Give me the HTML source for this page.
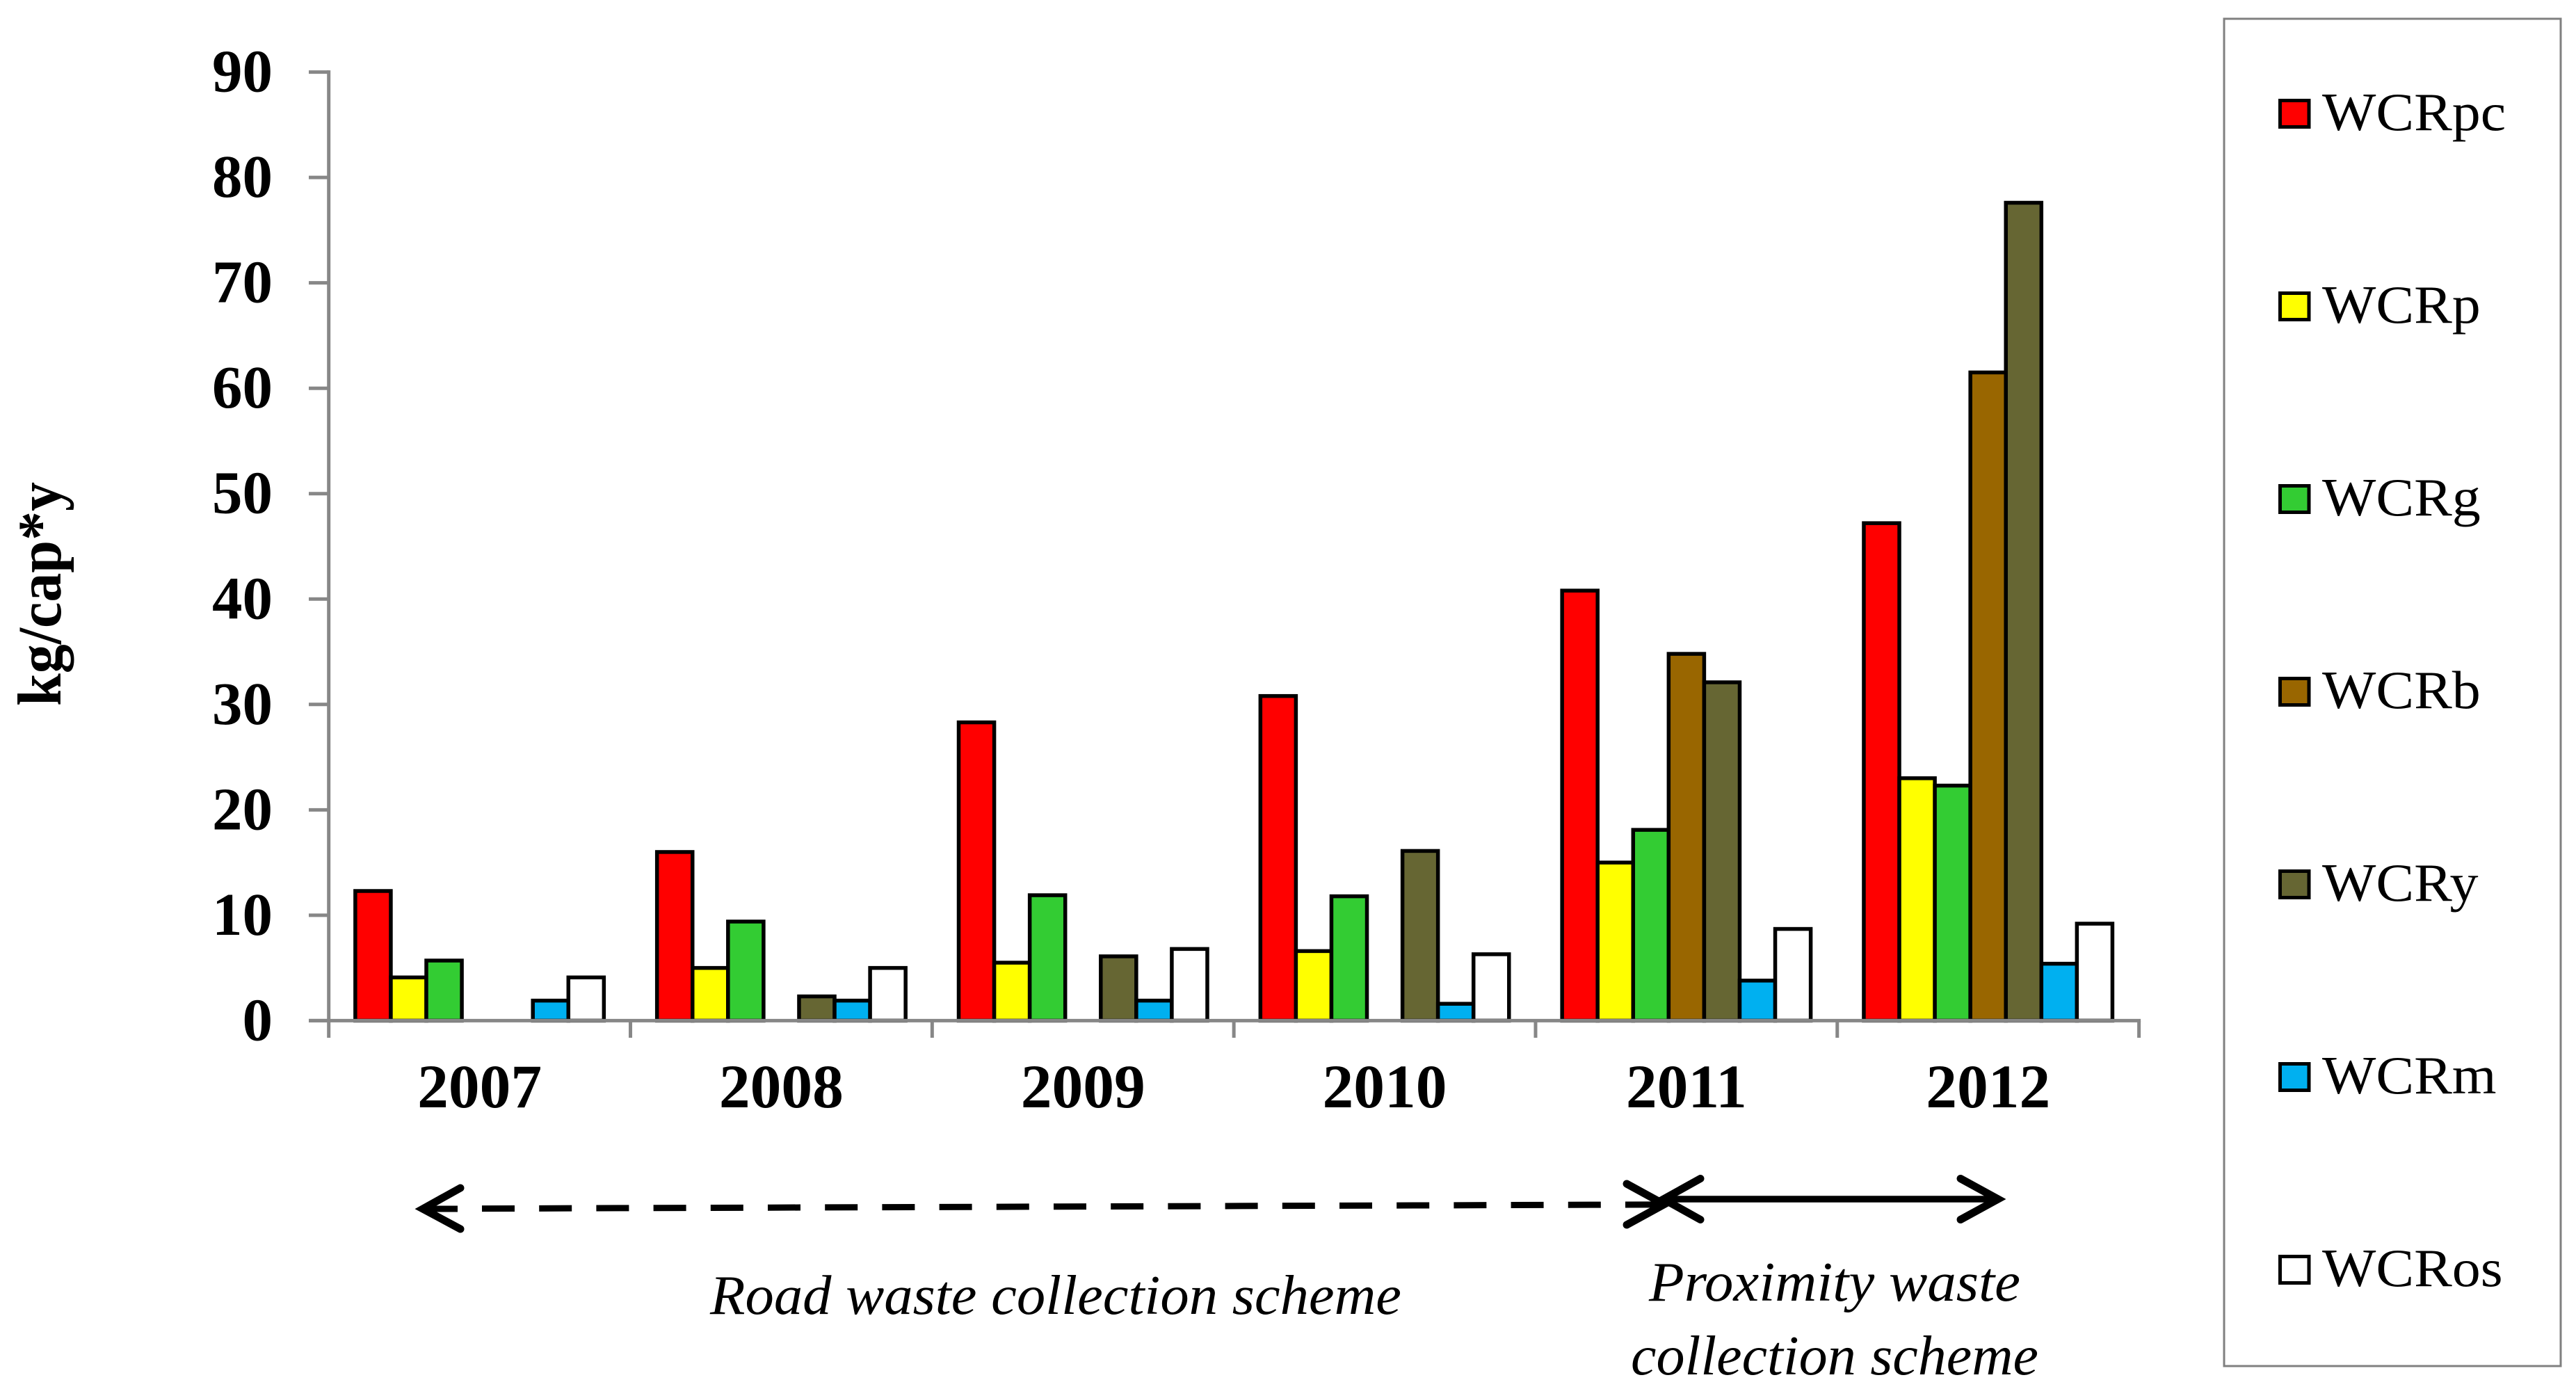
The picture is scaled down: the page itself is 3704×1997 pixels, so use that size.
<!DOCTYPE html>
<html lang="en">
<head>
<meta charset="utf-8">
<title>Waste collection rates 2007-2012</title>
<style>
html,body{margin:0;padding:0;background:#fff;width:3704px;height:1997px;overflow:hidden}
svg{display:block}
text{font-family:"Liberation Serif",serif;fill:#000}
</style>
</head>
<body>
<svg id="chart" xmlns="http://www.w3.org/2000/svg" width="3704" height="1997" viewBox="0 0 3704 1997">
  <rect x="0" y="0" width="3704" height="1997" fill="#fff"/>
  <g id="bars"></g>
  <g id="axes"></g>
  <text transform="translate(87,854) rotate(-90) scale(1,1.06)" text-anchor="middle" font-size="84" font-weight="bold">kg/cap*y</text>

  <g fill="none" stroke="#000" stroke-width="9">
    <line x1="610" y1="1738" x2="658" y2="1738"/>
    <line x1="693" y1="1737.6" x2="2391" y2="1731.8" stroke-dasharray="47 35.2"/>
    <path d="M662 1708 L608 1738 L662 1767" stroke-linecap="round" stroke-linejoin="miter" stroke-width="11"/>
    <path d="M2339 1702 L2393 1731.5 L2339 1761" stroke-linecap="round" stroke-linejoin="miter" stroke-width="11"/>
  </g>
  <g fill="none" stroke="#000" stroke-width="9.5">
    <line x1="2396" y1="1724" x2="2872" y2="1724"/>
    <path d="M2445 1694.5 L2392 1724 L2445 1753.5" stroke-linecap="round" stroke-width="11"/>
    <path d="M2819 1694.5 L2873 1724 L2819 1753.5" stroke-linecap="round" stroke-width="11"/>
  </g>

  <text x="1021" y="1889" font-size="80" font-style="italic" textLength="994" lengthAdjust="spacingAndGlyphs">Road waste collection scheme</text>
  <text x="2371" y="1870" font-size="80" font-style="italic" textLength="534" lengthAdjust="spacingAndGlyphs">Proximity waste</text>
  <text x="2345" y="1976" font-size="80" font-style="italic" textLength="586" lengthAdjust="spacingAndGlyphs">collection scheme</text>

  <g id="legend">
    <rect x="3198" y="27" width="484" height="1937" fill="#fff" stroke="#808080" stroke-width="3"/>
  </g>
</svg>
<script>
const categories = ["2007", "2008", "2009", "2010", "2011", "2012"];
const yTickLabels = [0, 10, 20, 30, 40, 50, 60, 70, 80, 90];
const seriesNames = ["WCRpc", "WCRp", "WCRg", "WCRb", "WCRy", "WCRm", "WCRos"];
const seriesColors = ["#FF0000", "#FFFF00", "#33CC33", "#996600", "#666633", "#00B0F0", "#FFFFFF"];
const wcrPc = [12.3, 16.0, 28.3, 30.8, 40.8, 47.2];
const wcrP = [4.1, 5.0, 5.5, 6.6, 15.0, 23.0];
const wcrG = [5.7, 9.4, 11.9, 11.8, 18.1, 22.3];
const wcrB = [0, 0, 0, 0, 34.8, 61.5];
const wcrY = [0, 2.3, 6.1, 16.1, 32.1, 77.6];
const wcrM = [1.9, 1.9, 1.9, 1.6, 3.8, 5.4];
const wcrOs = [4.1, 5.0, 6.8, 6.3, 8.7, 9.2];
const seriesValues = [wcrPc, wcrP, wcrG, wcrB, wcrY, wcrM, wcrOs];

const SVG_NS = "http://www.w3.org/2000/svg";
const plotLeft = 472.7, plotRight = 3075.6, plotTop = 103.6, plotBottom = 1467.4;
const yMax = 90;
const barStroke = 5.5;
const barShift = 0;
const axisColor = "#878787";

function yScale(v) { return plotBottom - (v / yMax) * (plotBottom - plotTop); }
function catWidth() { return (plotRight - plotLeft) / categories.length; }
function catLeft(i) { return plotLeft + i * catWidth(); }
function barWidth() { return catWidth() * 0.824 / seriesNames.length; }
function barX(i, s) {
  const groupW = barWidth() * seriesNames.length;
  return catLeft(i) + (catWidth() - groupW) / 2 + s * barWidth() + barShift;
}
function make(tag, parent, props) {
  const el = document.createElementNS(SVG_NS, tag);
  for (const k in props) el.setAttribute(k, props[k]);
  parent.appendChild(el);
  return el;
}

const barsG = document.getElementById("bars");
seriesValues.forEach(function (values, s) {
  values.forEach(function (v, i) {
    if (v <= 0) return;
    const bar = make("rect", barsG, {
      x: barX(i, s), y: yScale(v), width: barWidth(), height: plotBottom - yScale(v),
      fill: seriesColors[s], stroke: "#000", "stroke-width": barStroke
    });
    
    
  });
});

const axesG = document.getElementById("axes");
const yLine = make("line", axesG, { x1: plotLeft, y1: plotTop - 2.5, x2: plotLeft, y2: plotBottom + 2, stroke: axisColor, "stroke-width": 5 });


const xLine = make("line", axesG, { x1: 444, y1: plotBottom, x2: plotRight + 2.5, y2: plotBottom, stroke: axisColor, "stroke-width": 5 });



yTickLabels.forEach(function (t) {
  const tick = make("line", axesG, { x1: 444, y1: yScale(t), x2: plotLeft, y2: yScale(t), stroke: axisColor, "stroke-width": 5 });
  
  
  const label = make("text", axesG, { x: 392, y: yScale(t) + 28, "text-anchor": "end", "font-size": 87, "font-weight": "bold" });
  label.textContent = String(t);
  
  
});

for (let i = 0; i <= categories.length; i++) {
  const tick = make("line", axesG, { x1: catLeft(i), y1: plotBottom, x2: catLeft(i), y2: 1492, stroke: axisColor, "stroke-width": 5 });
  
  
}
categories.forEach(function (c, i) {
  const label = make("text", axesG, { x: catLeft(i) + catWidth() / 2, y: 1592, "text-anchor": "middle", "font-size": 89.5, "font-weight": "bold" });
  label.textContent = c;
  
  
});

const legendG = document.getElementById("legend");
const legendTop = 163.5, legendStep = 277;
seriesNames.forEach(function (name, s) {
  const cy = legendTop + s * legendStep;
  const swatch = make("rect", legendG, { x: 3278.5, y: cy - 19, width: 41.5, height: 38, fill: seriesColors[s], stroke: "#000", "stroke-width": 5 });
  
  
  const label = make("text", legendG, { transform: "translate(3339," + (cy + 23.5) + ") scale(1.065,1)", "font-size": 77 });
  label.textContent = name;
  
  
});
</script>
</body>
</html>
